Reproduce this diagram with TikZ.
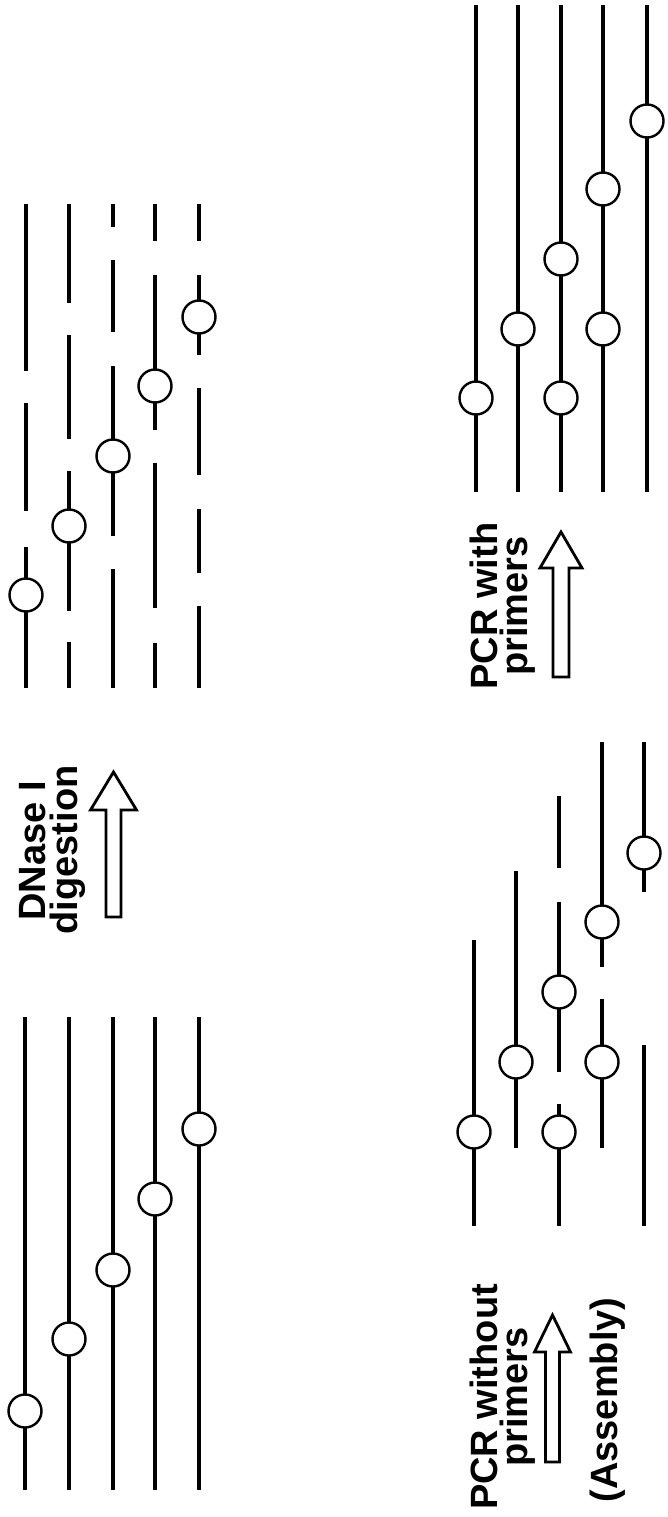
\documentclass[tikz,border=0pt]{standalone}
\usepackage{fontspec}
\setmainfont{Liberation Sans}
\newcommand\seg[3]{\draw[dna] (#1,#2) -- (#1,#3);}
% #1 centre x, #2 tip y, #3 tail y, #4 head half width, #5 shaft half width, #6 head length
\newcommand\blockup[6]{\draw[blockarrow] (#1,#2) -- (#1+#4,#2+#6) -- (#1+#5,#2+#6) -- (#1+#5,#3) -- (#1-#5,#3) -- (#1-#5,#2+#6) -- (#1-#4,#2+#6) -- cycle;}
\tikzset{
  dna/.style={line width=3.4pt, line cap=butt},
  site/.style={circle, draw, line width=2.4pt, fill=white, minimum size=33pt, inner sep=0pt},
  lbl/.style={rotate=90, anchor=base, inner sep=0pt, font=\fontsize{38}{40}\selectfont\bfseries},
  blockarrow/.style={draw, line width=2.8pt, fill=white, line join=miter},
}
\begin{document}
\begin{tikzpicture}[x=1pt,y=-1pt]
\fill[white] (0,0) rectangle (667,1517);
\useasboundingbox (0,0) rectangle (667,1517);

% ---------- Panel 1: intact genes (bottom left)
\foreach \x in {25,69,113,155,199} {\seg{\x}{1017}{1490}}
\node[site] (p1a) at (25,1411) {};
\node[site] (p1b) at (69,1339) {};
\node[site] (p1c) at (113,1270) {};
\node[site] (p1d) at (155,1199) {};
\node[site] (p1e) at (199,1129) {};

% ---------- Label: DNase I digestion
\node[lbl] (t1a) at (45,851) {DNase I};
\node[lbl] (t1b) at (77,850) {digestion};
\blockup{113.5}{772}{917}{23}{7.5}{38}

% ---------- Panel 2: fragments (top left)
\seg{26}{204}{371}\seg{26}{403}{511}\seg{26}{547}{688}
\seg{69}{204}{303}\seg{69}{335}{439}\seg{69}{471}{611}\seg{69}{642}{688}
\seg{113}{204}{227}\seg{113}{260}{332}\seg{113}{366}{536}\seg{113}{569}{688}
\seg{155}{204}{241}\seg{155}{275}{430}\seg{155}{463}{608}\seg{155}{643}{688}
\seg{199}{204}{241}\seg{199}{275}{355}\seg{199}{388}{475}\seg{199}{509}{573}\seg{199}{606}{688}
\node[site] (p2a) at (26,595) {};
\node[site] (p2b) at (69,526) {};
\node[site] (p2c) at (113,456) {};
\node[site] (p2d) at (155,386) {};
\node[site] (p2e) at (199,317) {};

% ---------- Panel 4: assembly (bottom right)
\seg{474}{940}{1226}
\seg{516}{871}{1148}
\seg{559}{796}{868}\seg{559}{902}{1072}\seg{559}{1104}{1226}
\seg{602}{742}{967}\seg{602}{999}{1148}
\seg{644}{742}{892}\seg{644}{1045}{1226}
\node[site] (p4a) at (474,1132) {};
\node[site] (p4b) at (516,1062) {};
\node[site] (p4c) at (559,992) {};
\node[site] (p4d) at (559,1132) {};
\node[site] (p4e) at (602,922) {};
\node[site] (p4f) at (602,1062) {};
\node[site] (p4g) at (644,853) {};

% ---------- Label: PCR without primers (Assembly)
\node[lbl] (t3a) at (497,1397) {PCR without};
\node[lbl] (t3b) at (527,1397) {primers};
\node[lbl] (t3c) at (617,1400) {(Assembly)};
\blockup{552.5}{1315}{1462}{18}{7}{37}

% ---------- Label: PCR with primers
\node[lbl] (t2a) at (497,606) {PCR with};
\node[lbl] (t2b) at (527,606) {primers};
\blockup{561}{532}{677}{21}{8}{36}

% ---------- Panel 3: recombined products (top right)
\foreach \x in {476,518,561,603,647} {\seg{\x}{5}{492}}
\node[site] (p3a) at (476,398) {};
\node[site] (p3b) at (518,329) {};
\node[site] (p3c) at (561,259) {};
\node[site] (p3d) at (561,398) {};
\node[site] (p3e) at (603,189) {};
\node[site] (p3f) at (603,329) {};
\node[site] (p3g) at (647,121) {};
\end{tikzpicture}
\end{document}
